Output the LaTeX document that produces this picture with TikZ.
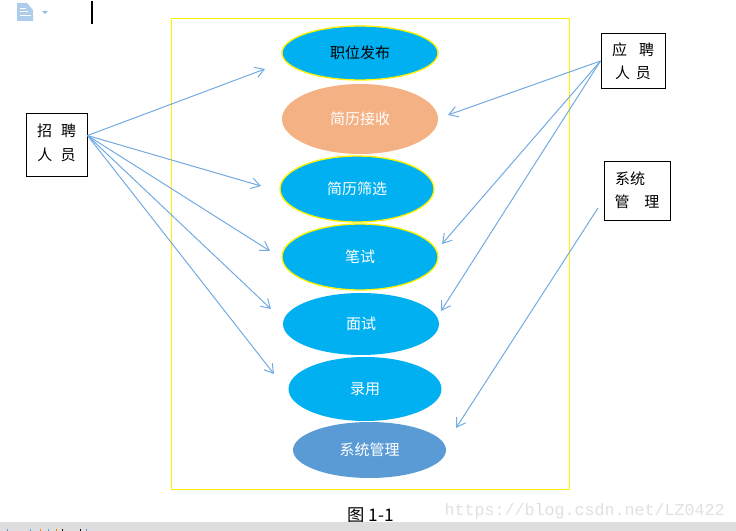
\documentclass[tikz,border=0pt]{standalone}
\usepackage{xcolor}
\usepackage{fontspec}
\setmainfont{Noto Sans CJK SC}
\newfontfamily\wmfont{Liberation Mono}
\usetikzlibrary{shapes.geometric}
\usetikzlibrary{arrows.meta}
\definecolor{useblue}{RGB}{0,176,240}
\definecolor{useorange}{RGB}{244,177,131}
\definecolor{usesteel}{RGB}{91,155,213}
\definecolor{flowblue}{RGB}{115,170,225}
\tikzset{
	usecase/.style={ellipse,fill=useblue,text=white,inner sep=0pt,font=\fontsize{11.25}{13}\selectfont},
	edged/.style={draw=yellow,line width=1pt},
	actor/.style={draw=black,line width=0.75pt,inner sep=0pt,align=center,font=\fontsize{11.25}{17.5}\selectfont},
	flow/.style={draw=flowblue,line width=0.75pt,-{Straight Barb[length=6.5pt,width=8pt]}}
}

\begin{document}
\begin{tikzpicture}[x=0.75pt,y=0.75pt,yscale=-1,xscale=1]
		\useasboundingbox (0,0) rectangle (736,531);
		
		%Toolbar icon and cursor
		\fill [color=usesteel!50] (17,3) -- (27,3) -- (33,10) -- (33,21) -- (17,21) -- cycle ;
		\draw [white,line width=0.75pt] (20,9) -- (26,9) (20,12) -- (28,12) (20,16) -- (31,16) ;
		\fill [color=usesteel!70] (42,11) -- (48,11) -- (45,14) -- cycle ;
		\draw [black,line width=1.5pt] (92,1) -- (92,24) ;
		
		%Shape: Rectangle
		\draw [color=yellow,line width=0.75pt] (171.5,18.5) -- (569.5,18.5) -- (569.5,489.5) -- (171.5,489.5) -- cycle ;
		
		%Use cases
		\node [usecase,edged,text=black,minimum width=156pt*0.75,minimum height=54pt*0.75] (post) at (360,53) {职位发布};
		\node [usecase,fill=useorange,minimum width=156pt*0.75,minimum height=70pt*0.75] (receive) at (360,119) {简历接收};
		\node [usecase,edged,minimum width=154pt*0.75,minimum height=66pt*0.75] (screen) at (357,189) {简历筛选};
		\node [usecase,edged,minimum width=156pt*0.75,minimum height=66pt*0.75] (exam) at (360,257) {笔试};
		\node [usecase,minimum width=156pt*0.75,minimum height=62pt*0.75] (interview) at (361,324) {面试};
		\node [usecase,minimum width=153pt*0.75,minimum height=64pt*0.75] (hire) at (365,389) {录用};
		\node [usecase,fill=usesteel,minimum width=153pt*0.75,minimum height=56pt*0.75] (sysuse) at (369.5,450) {系统管理};
		
		%Actors
		\node [actor,minimum width=61pt*0.75,minimum height=63pt*0.75] (recruiter) at (56.5,145) {招\hspace{0.6em}聘\\人\hspace{0.55em}员\rule[-4pt]{0pt}{0pt}};
		\node [actor,minimum width=64pt*0.75,minimum height=55pt*0.75] (applicant) at (633,61) {应\hspace{0.8em}聘\\人\hspace{0.4em}员};
		\node [actor,minimum width=66pt*0.75,minimum height=59pt*0.75] (admin) at (637,191) {系统\hspace{0.93em}\mbox{}\\管\hspace{1em}理\rule[-1.5pt]{0pt}{0pt}};
		
		%Free ends of the connectors
		\coordinate (r1) at (265,69);
		\coordinate (r2) at (261,186);
		\coordinate (r3) at (270,251);
		\coordinate (r4) at (271,309);
		\coordinate (r5) at (274,374);
		\coordinate (a1) at (448,115);
		\coordinate (a2) at (442,244);
		\coordinate (a3) at (441,311);
		\coordinate (s0) at (598,208);
		\coordinate (s1) at (456,428);
		
		%Straight Lines
		\foreach \e in {r1,r2,r3,r4,r5}
			\draw [flow] (recruiter.17) -- (\e) ;
		\foreach \e in {a1,a2,a3}
			\draw [flow] (applicant.west) -- (\e) ;
		\draw [flow] (s0) -- (s1) ;
		
		% Text Node
		\node [anchor=center,inner sep=0pt,font=\fontsize{13}{15}\selectfont] (caption) at (371,515) {图 1-1};
		\node [anchor=east,inner sep=0pt,text=black!12,font=\wmfont\fontsize{12.5}{15}\selectfont] (mark) at (725,511) {https://blog.csdn.net/LZ0422};
		
		%Status bar
		\fill [color=black!13] (0,522) rectangle (736,531) ;
		\foreach \p/\c in {7/usesteel,30/usesteel,40/orange,48/usesteel,56/orange,62/black,80/black,86/usesteel}
			\fill [color=\c] (\p,529) rectangle ++(1,2) ;
		
	\end{tikzpicture}
\end{document}
